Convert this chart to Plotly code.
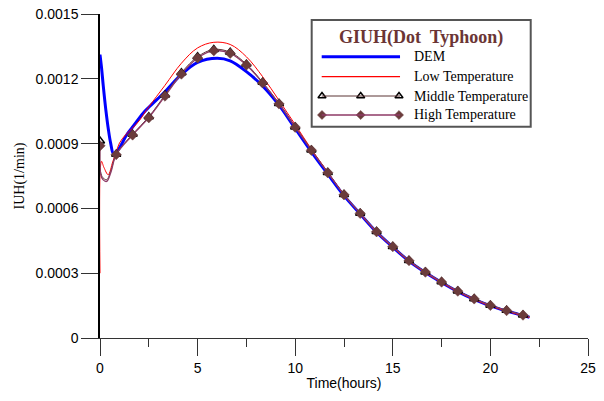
import plotly.graph_objects as go

# ---------------- data ----------------
# marker times (every 50 min) shared by the Middle / High temperature series
t_mark = [0, 0.83, 1.67, 2.5, 3.33, 4.17, 5.0, 5.83, 6.67, 7.5, 8.33, 9.17,
          10.0, 10.83, 11.67, 12.5, 13.33, 14.17, 15.0, 15.83, 16.67, 17.5,
          18.33, 19.17, 20.0, 20.83, 21.67]
high_mark = [0.000890, 0.000849, 0.000940, 0.001020, 0.001120, 0.001222,
             0.001296, 0.001330, 0.001318, 0.001264, 0.001181, 0.001084,
             0.000976, 0.000869, 0.000765, 0.000663, 0.000577, 0.000492,
             0.000423, 0.000358, 0.000305, 0.000259, 0.000217, 0.000181,
             0.000151, 0.000127, 0.000106]
middle_mark = [0.000912, 0.000851, 0.000943, 0.001024, 0.001125, 0.001228,
               0.001302, 0.001336, 0.001323, 0.001268, 0.001184, 0.001086,
               0.000977, 0.000870, 0.000766, 0.000664, 0.000578, 0.000493,
               0.000424, 0.000359, 0.000306, 0.000260, 0.000218, 0.000182,
               0.000152, 0.000128, 0.000107]
# extra (unmarked) line points: early dip and curve end
t_extra = [0.03, 0.15, 0.34, 0.55, 22.0]
high_extra = [0.000760, 0.000733, 0.000725, 0.000765, 0.000098]
middle_extra = [0.000770, 0.000742, 0.000733, 0.000772, 0.000099]

t_low = [0, 0.02, 0.08, 0.2, 0.42, 0.65, 0.83, 1.0, 1.3, 1.67, 2.0, 2.5,
         3.33, 4.17, 5.0, 5.83, 6.67, 7.5, 8.33, 9.17, 10.0, 10.83, 11.67,
         12.5, 13.33, 14.17, 15.0, 15.83, 16.67, 17.5, 18.33, 19.17, 20.0,
         20.83, 21.67, 22.0]
low = [0.000300, 0.000790, 0.000818, 0.000790, 0.000756, 0.000815, 0.000862,
       0.000903, 0.000940, 0.000972, 0.001005, 0.001070, 0.001170, 0.001272,
       0.001343, 0.001369, 0.001359, 0.001302, 0.001210, 0.001100, 0.000988,
       0.000874, 0.000768, 0.000664, 0.000575, 0.000489, 0.000420, 0.000355,
       0.000302, 0.000256, 0.000214, 0.000178, 0.000148, 0.000124, 0.000103,
       0.000095]

t_dem = [0, 0.08, 0.17, 0.3, 0.43, 0.55, 0.7, 0.94, 1.37, 1.67, 2.22, 2.5,
         3.33, 4.17, 5.0, 6.0, 6.67, 7.5, 8.33, 9.17, 10.0, 10.83, 11.67,
         12.5, 13.33, 14.17, 15.0, 15.83, 16.67, 17.5, 18.33, 19.17, 20.0,
         20.83, 21.67, 22.0]
dem = [0.001312, 0.001250, 0.001165, 0.001055, 0.000965, 0.000900, 0.000852,
       0.000872, 0.000941, 0.000977, 0.001042, 0.001068, 0.001140, 0.001220,
       0.001276, 0.001295, 0.001283, 0.001233, 0.001167, 0.001078, 0.000970,
       0.000862, 0.000759, 0.000659, 0.000574, 0.000490, 0.000421, 0.000356,
       0.000303, 0.000257, 0.000215, 0.000179, 0.000149, 0.000125, 0.000104,
       0.000096]

x_ticks = [0, 5, 10, 15, 20, 25]
x_minor = [2.5, 7.5, 12.5, 17.5, 22.5]
y_ticks = [0, 0.0003, 0.0006, 0.0009, 0.0012, 0.0015]
y_ticktext = ["0", "0.0003", "0.0006", "0.0009", "0.0012", "0.0015"]

legend_title = "GIUH(Dot\u00a0 Typhoon)"
series_names = ["DEM", "Low Temperature", "Middle Temperature", "High Temperature"]

# ---------------- styles ----------------
C_DEM = "#0000FF"
C_LOW = "#FF0000"
C_MID = "#5A3535"
C_HIGH = "#8E3A66"
C_DIAM = "#6B3C3C"
SERIF = "Liberation Serif, Times New Roman, serif"
SANS = "Liberation Sans, Arial, sans-serif"
SMOOTH = 1.0


def merge(t1, y1, t2, y2):
    pts = sorted(zip(list(t1) + list(t2), list(y1) + list(y2)))
    return [p[0] for p in pts], [p[1] for p in pts]


t_high_line, high_line = merge(t_mark, high_mark, t_extra, high_extra)
t_mid_line, mid_line = merge(t_mark, middle_mark, t_extra, middle_extra)

fig = go.Figure()
fig.add_trace(go.Scatter(x=t_dem, y=dem, mode="lines", name=series_names[0],
                         line=dict(color=C_DEM, width=3, shape="spline", smoothing=SMOOTH)))
fig.add_trace(go.Scatter(x=t_low, y=low, mode="lines", name=series_names[1],
                         line=dict(color=C_LOW, width=1, shape="spline", smoothing=SMOOTH)))
fig.add_trace(go.Scatter(x=t_mid_line, y=mid_line, mode="lines", name=series_names[2],
                         line=dict(color=C_MID, width=1, shape="spline", smoothing=SMOOTH)))
fig.add_trace(go.Scatter(x=t_high_line, y=high_line, mode="lines", name=series_names[3],
                         line=dict(color=C_HIGH, width=1.3, shape="spline", smoothing=SMOOTH)))
fig.add_trace(go.Scatter(x=t_mark, y=middle_mark, mode="markers",
                         marker=dict(symbol="triangle-up", size=8, color="white",
                                     line=dict(color="black", width=1.5))))
fig.add_trace(go.Scatter(x=t_mark, y=high_mark, mode="markers",
                         marker=dict(symbol="diamond", size=8, color=C_DIAM,
                                     line=dict(color=C_DIAM, width=0.5))))

# ---------------- custom legend (paper coordinates) ----------------
lx0, lx1, ly0, ly1 = 0.4338, 0.8826, 0.6522, 0.9815
row_y = [0.8682, 0.8065, 0.7469, 0.6883]
sx0, sx1 = 0.4543, 0.6148
shapes = [dict(type="rect", xref="paper", yref="paper", x0=lx0, x1=lx1, y0=ly0, y1=ly1,
               line=dict(color="#555555", width=2), fillcolor="white", layer="below")]
leg_styles = [(C_DEM, 3), (C_LOW, 1.2), (C_MID, 1), (C_HIGH, 1.3)]
for (c, w), yy in zip(leg_styles, row_y):
    shapes.append(dict(type="line", xref="paper", yref="paper", x0=sx0, x1=sx1,
                       y0=yy, y1=yy, line=dict(color=c, width=w)))

mk_x = [0.4549, 0.5342, 0.6127]
fig.add_trace(go.Scatter(x=mk_x, y=[row_y[2]] * 3, xaxis="x2", yaxis="y2", mode="markers",
                         cliponaxis=False,
                         marker=dict(symbol="triangle-up", size=7, color="white",
                                     line=dict(color="black", width=1.5))))
fig.add_trace(go.Scatter(x=mk_x, y=[row_y[3]] * 3, xaxis="x2", yaxis="y2", mode="markers",
                         cliponaxis=False,
                         marker=dict(symbol="diamond", size=7, color=C_DIAM,
                                     line=dict(color=C_DIAM, width=0.5))))

annotations = [dict(text="<b>%s</b>" % legend_title, xref="paper", yref="paper",
                    x=0.657, y=0.926, showarrow=False, xanchor="center", yanchor="middle",
                    font=dict(family=SERIF, size=18, color="#6B3535"))]
for name, yy in zip(series_names, row_y):
    annotations.append(dict(text=name, xref="paper", yref="paper", x=0.6387, y=yy,
                            showarrow=False, xanchor="left", yanchor="middle",
                            font=dict(family=SERIF, size=14, color="black")))

fig.update_layout(
    width=604, height=401,
    margin=dict(l=100, r=16, t=14, b=63, autoexpand=False),
    paper_bgcolor="white", plot_bgcolor="white",
    showlegend=False,
    shapes=shapes, annotations=annotations,
    xaxis=dict(range=[0, 25], tickvals=x_ticks, ticks="outside", ticklen=17,
               tickwidth=1, tickcolor="#333333", showline=True, linecolor="#333333",
               linewidth=1, showgrid=False, zeroline=False, automargin=False,
               minor=dict(tickvals=x_minor, ticks="outside", ticklen=8,
                          tickcolor="#333333", showgrid=False),
               tickfont=dict(family=SANS, size=14, color="black"),
               title=dict(text="Time(hours)", standoff=3,
                          font=dict(family=SANS, size=14, color="black"))),
    yaxis=dict(range=[0, 0.0015], tickvals=y_ticks, ticktext=y_ticktext,
               ticks="outside", ticklen=17, tickwidth=1, tickcolor="#333333",
               showline=True, linecolor="black", linewidth=1.5,
               showgrid=False, zeroline=False, automargin=False,
               tickfont=dict(family=SANS, size=14, color="black"),
               title=dict(text="IUH(1/min)", standoff=8,
                          font=dict(family=SERIF, size=14, color="black"))),
    xaxis2=dict(overlaying="x", range=[0, 1], visible=False),
    yaxis2=dict(overlaying="y", range=[0, 1], visible=False),
)

fig.write_html("out.html", config={"displayModeBar": False},
               post_script="document.body.style.margin='0';document.body.style.overflow='hidden';")
